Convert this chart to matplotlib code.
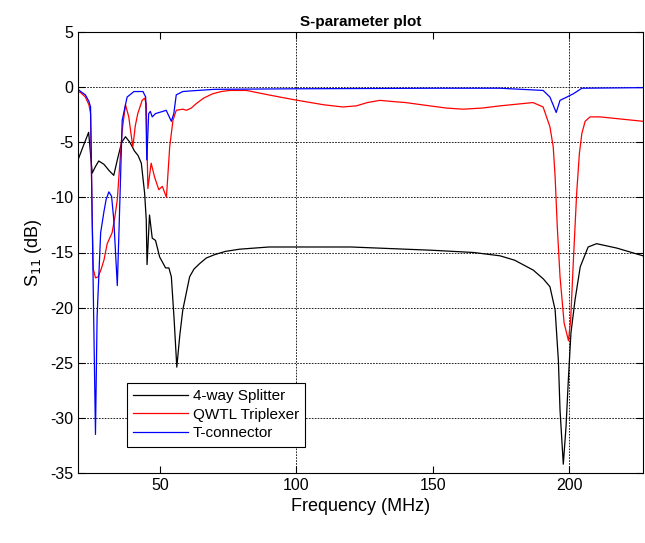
from matplotlib import pyplot as plt

plt.rcParams['font.family'] = ['Liberation Sans', 'DejaVu Sans']
plt.rcParams['axes.unicode_minus'] = False

# 4-way Splitter
splitter_f = [20.0, 22.0, 23.9, 25.2, 26.4, 27.6, 29.5, 31.5, 33.1, 34.5, 36.0, 37.4,
              39.0, 40.7, 42.0, 43.2, 44.4, 45.0, 45.3, 46.2, 47.2, 48.4, 49.9, 52.1,
              53.3, 54.2, 55.2, 56.2, 57.3, 58.4, 60.9, 62.5, 64.6, 67.0, 70.0, 74.0,
              79.2, 90.0, 100.0, 120.0, 130.0, 150.0, 165.0, 174.6, 180.0, 186.8,
              190.5, 192.9, 194.8, 196.0, 196.6, 197.8, 198.8, 199.7, 200.6, 202.1,
              204.0, 206.9, 210.0, 217.4, 227.0]
splitter_db = [-6.6, -5.3, -4.1, -7.8, -7.2, -6.7, -7.0, -7.6, -8.0, -6.5, -5.0, -4.5,
               -5.0, -5.8, -6.2, -6.9, -9.6, -12.0, -16.1, -11.6, -13.7, -13.9, -15.4,
               -16.4, -16.4, -17.2, -21.0, -25.4, -22.5, -20.2, -17.2, -16.5, -16.0,
               -15.5, -15.2, -14.9, -14.7, -14.5, -14.5, -14.5, -14.6, -14.8, -15.0,
               -15.3, -15.7, -16.6, -17.4, -18.1, -20.2, -24.8, -29.3, -34.2, -30.8,
               -26.3, -22.3, -19.3, -16.3, -14.5, -14.2, -14.6, -15.3]

# QWTL Triplexer
triplexer_f = [20.0, 21.0, 22.7, 24.0, 24.6, 25.2, 25.6, 26.4, 27.4, 28.5, 29.5, 30.7,
               32.5, 33.5, 34.4, 35.3, 36.2, 37.4, 38.6, 39.4, 40.1, 41.0, 41.9, 43.5,
               44.4, 45.0, 45.6, 46.8, 48.1, 49.6, 50.9, 52.4, 53.6, 54.8, 56.0, 58.4,
               59.7, 61.5, 63.3, 66.0, 69.4, 72.5, 75.6, 81.7, 87.7, 93.9, 100.5,
               110.0, 117.0, 122.0, 126.0, 130.6, 135.0, 140.0, 148.9, 155.0, 161.0,
               168.0, 174.6, 186.7, 190.4, 192.9, 194.1, 194.8, 195.6, 196.6, 198.1,
               199.7, 200.5, 201.5, 202.7, 203.7, 204.6, 205.8, 207.6, 211.3, 227.0]
triplexer_db = [-0.4, -0.5, -0.9, -1.6, -2.4, -12.0, -16.5, -17.3, -17.2, -16.5, -15.7,
                -14.2, -13.2, -11.8, -10.2, -7.0, -3.9, -1.6, -2.7, -4.2, -5.4, -3.5,
                -2.4, -1.2, -1.0, -1.5, -9.2, -6.9, -8.2, -9.3, -9.0, -10.0, -5.4, -3.0,
                -2.1, -2.0, -2.1, -1.9, -1.5, -1.0, -0.6, -0.4, -0.3, -0.3, -0.6, -0.9,
                -1.2, -1.6, -1.8, -1.7, -1.4, -1.2, -1.3, -1.4, -1.7, -1.9, -2.0, -1.9,
                -1.7, -1.4, -1.8, -3.6, -5.4, -8.1, -12.7, -17.2, -21.4, -23.0, -21.1,
                -15.7, -9.6, -6.0, -4.2, -3.1, -2.7, -2.7, -3.1]

# T-connector
tconn_f = [20.0, 21.0, 22.7, 24.0, 24.6, 25.2, 26.0, 26.4, 27.0, 28.3, 29.5, 30.3,
           31.3, 32.3, 33.1, 34.4, 35.0, 36.2, 38.0, 40.5, 43.8, 44.8, 45.2, 45.9,
           46.5, 47.2, 48.4, 51.1, 52.3, 54.2, 55.1, 56.0, 58.4, 60.9, 70.0, 100.0,
           150.0, 174.6, 190.4, 192.9, 195.2, 196.6, 199.1, 201.5, 204.6, 227.0]
tconn_db = [-0.2, -0.4, -0.7, -1.3, -1.8, -12.0, -25.0, -31.5, -20.8, -13.2, -11.3,
            -10.2, -9.5, -9.9, -12.0, -18.0, -13.2, -3.0, -0.9, -0.4, -0.4, -0.9, -6.6,
            -2.4, -2.2, -2.7, -2.4, -2.2, -2.1, -3.1, -2.4, -0.7, -0.4, -0.35, -0.2,
            -0.15, -0.1, -0.1, -0.3, -0.9, -2.3, -1.2, -0.9, -0.6, -0.1, -0.05]

grid_x = [100, 200]

fig = plt.figure(figsize=(6.45, 5.43), dpi=100)
ax = fig.add_axes([78 / 645, 70 / 543, 565 / 645, 441 / 543])

ax.plot(splitter_f, splitter_db, color='black', linewidth=0.9, label='4-way Splitter')
ax.plot(triplexer_f, triplexer_db, color='red', linewidth=0.9, label='QWTL Triplexer')
ax.plot(tconn_f, tconn_db, color='blue', linewidth=0.9, label='T-connector')

ax.set_xlim(20, 227)
ax.set_ylim(-35, 5)
ax.set_xticks([50, 100, 150, 200])
ax.set_yticks(range(-35, 6, 5))

# horizontal grid everywhere, vertical grid only at 100 and 200
grid_style = dict(linestyle=(0, (2, 1.5)), color='black', linewidth=0.6)
ax.yaxis.grid(True, **grid_style)
for gx in grid_x:
    ax.axvline(gx, zorder=0.5, **grid_style)

ax.tick_params(direction='in', top=True, right=True, length=5, labelsize=11.5)
for s in ax.spines.values():
    s.set_linewidth(0.8)

ax.set_title('S-parameter plot', fontsize=11, fontweight='bold', pad=4)
ax.set_xlabel('Frequency (MHz)', fontsize=13)
ax.set_ylabel('S$_{11}$ (dB)', fontsize=13)

leg = ax.legend(loc='lower left', bbox_to_anchor=(0.087, 0.06), fontsize=11,
                fancybox=False, edgecolor='black', framealpha=1,
                handlelength=3.6, borderpad=0.4, labelspacing=0.3,
                handletextpad=0.3, borderaxespad=0)
leg.get_frame().set_linewidth(0.8)

fig.savefig('out.png', dpi=100)
